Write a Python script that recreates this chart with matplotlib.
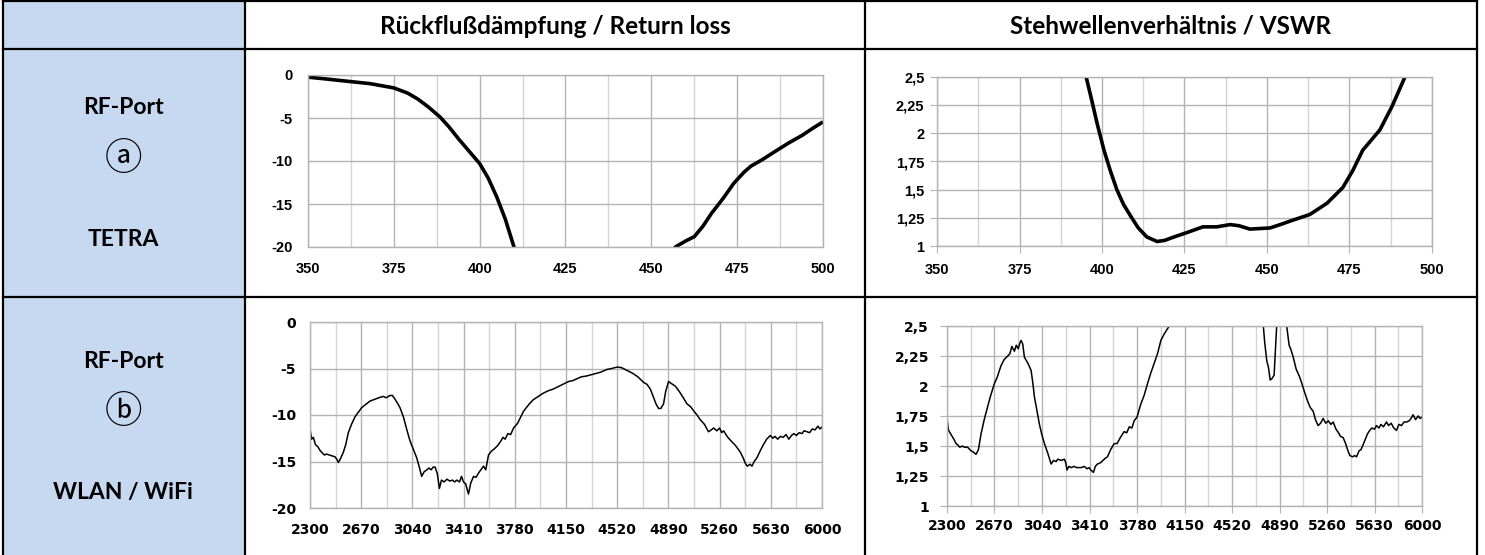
import matplotlib
matplotlib.use("Agg")
from matplotlib import pyplot as plt
from matplotlib.patches import Rectangle

W, H = 1485, 555

# --- data: TETRA return loss (dB) ---
tetra_rl_x1 = [350, 355, 362, 368, 375, 379, 382, 385, 388.5, 391, 394, 397, 400, 402.5, 405, 407.5, 410, 412]
tetra_rl_y1 = [-0.25, -0.45, -0.75, -1.0, -1.5, -2.1, -2.8, -3.7, -4.9, -6.0, -7.5, -8.9, -10.3, -12.0, -14.2, -16.8, -20.0, -22.5]
tetra_rl_x2 = [455, 457, 460, 462.5, 465, 467.5, 471, 474, 477, 479, 482.5, 486, 490, 494, 497, 500]
tetra_rl_y2 = [-21.5, -20.0, -19.3, -18.8, -17.6, -16.1, -14.3, -12.6, -11.3, -10.6, -9.8, -8.9, -7.9, -7.0, -6.2, -5.45]

# --- data: TETRA VSWR ---
tetra_vswr_x = [393, 395.2, 397, 398.5, 400.6, 402.5, 404.5, 406.5, 408.8, 411, 413.6, 416.7, 419, 421.8, 425.8, 430.6,
                434.8, 438.8, 441.5, 444.8, 450.9, 454, 457.9, 463, 468.2, 473, 476, 479, 484.2, 487.9, 491.8, 494]
tetra_vswr_y = [2.8, 2.5, 2.28, 2.09, 1.85, 1.67, 1.5, 1.37, 1.26, 1.16, 1.08, 1.04, 1.05, 1.08, 1.12, 1.17,
                1.17, 1.19, 1.18, 1.15, 1.16, 1.19, 1.23, 1.28, 1.38, 1.52, 1.67, 1.85, 2.03, 2.24, 2.5, 2.8]

# --- data: WLAN return loss (dB) ---
wlan_rl_x = [2300, 2312, 2324, 2340, 2356, 2372, 2390, 2405, 2420, 2440, 2460, 2481, 2495, 2505, 2520, 2541, 2558, 2577,
             2600, 2625, 2650, 2674, 2700, 2734, 2770, 2790, 2806, 2830, 2850, 2878, 2895, 2910, 2927, 2950, 2975,
             3000, 3023, 3047, 3071, 3090, 3107, 3125, 3144, 3160, 3175, 3190, 3204, 3220, 3235, 3250, 3270, 3289,
             3310, 3330, 3345, 3361, 3380, 3395, 3409, 3425, 3445, 3462, 3482, 3500, 3520, 3540, 3554, 3570, 3590,
             3610, 3635, 3655, 3675, 3695, 3710, 3730, 3750, 3771, 3800, 3843, 3880, 3910, 3940, 3980, 4020, 4060,
             4100, 4140, 4168, 4200, 4229, 4260, 4300, 4349, 4400, 4446, 4480, 4518, 4550, 4590, 4630, 4670, 4711,
             4735, 4759, 4780, 4800, 4819, 4835, 4855, 4870, 4891, 4910, 4940, 4970, 5000, 5024, 5050, 5075, 5097,
             5120, 5150, 5180, 5200, 5217, 5240, 5260, 5275, 5289, 5310, 5325, 5350, 5370, 5386, 5410, 5430, 5446,
             5460, 5480, 5494, 5510, 5530, 5555, 5580, 5600, 5627, 5645, 5660, 5680, 5699, 5720, 5740, 5760, 5780,
             5796, 5815, 5835, 5855, 5870, 5892, 5910, 5930, 5950, 5970, 5985, 6000]
wlan_rl_y = [-11.5, -12.6, -12.4, -13.2, -13.4, -13.8, -14.1, -14.3, -14.2, -14.3, -14.4, -14.5, -14.8, -15.1, -14.7, -14.0, -13.2, -11.9,
             -11.0, -10.2, -9.7, -9.2, -8.9, -8.5, -8.3, -8.2, -8.1, -8.0, -8.15, -7.9, -7.9, -8.2, -8.6, -9.2, -10.2,
             -11.6, -12.8, -13.7, -14.6, -15.6, -16.6, -16.1, -15.9, -15.7, -15.9, -15.6, -15.6, -16.3, -17.9, -17.0, -17.2, -16.9,
             -17.1, -17.0, -17.2, -17.0, -17.2, -16.6, -17.2, -17.4, -18.5, -17.3, -16.6, -16.7, -16.2, -15.8, -15.5, -15.9, -14.3,
             -13.9, -13.6, -13.3, -12.9, -12.4, -12.6, -12.0, -12.1, -11.4, -10.9, -9.6, -8.9, -8.4, -8.1, -7.7, -7.4, -7.2,
             -6.9, -6.6, -6.4, -6.3, -6.1, -5.9, -5.8, -5.6, -5.4, -5.1, -5.0, -4.85, -4.9, -5.2, -5.5, -5.9, -6.5,
             -6.7, -7.2, -8.0, -8.8, -9.3, -9.3, -8.8, -7.5, -6.4, -6.6, -6.9, -7.5, -8.2, -8.8, -9.1, -9.6, -10.0,
             -10.5, -11.0, -11.8, -11.6, -11.4, -11.7, -11.4, -11.9, -11.7, -12.2, -12.5, -12.9, -13.2, -13.5, -14.0, -14.6, -15.2,
             -15.5, -15.3, -15.5, -15.0, -14.6, -13.8, -13.1, -12.6, -12.2, -12.5, -12.3, -12.6, -12.3, -12.4, -12.1, -12.6, -12.2,
             -12.0, -12.2, -11.9, -12.0, -11.7, -11.8, -11.9, -11.5, -11.6, -11.2, -11.5, -11.3]

# --- data: WLAN VSWR ---
wlan_vswr_x = [2300, 2310, 2318, 2335, 2357, 2370, 2383, 2400, 2420, 2435, 2460, 2487, 2505, 2526, 2545, 2565, 2590, 2617,
               2640, 2669, 2690, 2721, 2745, 2773, 2790, 2805, 2825, 2840, 2855, 2868, 2877, 2890, 2903, 2930, 2955,
               2968, 2981, 3000, 3020, 3040, 3059, 3085, 3111, 3130, 3150, 3163, 3190, 3215, 3225, 3235, 3250, 3266,
               3290, 3310, 3344, 3370, 3390, 3408, 3420, 3441, 3455, 3472, 3495, 3515, 3535, 3550, 3575, 3602, 3625,
               3650, 3680, 3700, 3720, 3740, 3758, 3780, 3810, 3835, 3862, 3885, 3914, 3940, 3966, 3990, 4031, 4100,
               4700, 4764, 4775, 4791, 4805, 4817, 4830, 4848, 4868, 4880, 4930, 4946, 4965, 4980, 4997, 5020, 5049,
               5070, 5088, 5110, 5130, 5152, 5170, 5191, 5210, 5230, 5250, 5270, 5290, 5308, 5330, 5350, 5365, 5386,
               5405, 5420, 5438, 5460, 5475, 5490, 5510, 5525, 5541, 5560, 5575, 5593, 5610, 5630, 5645, 5665, 5680,
               5700, 5723, 5740, 5760, 5780, 5801, 5820, 5840, 5860, 5879, 5900, 5915, 5930, 5950, 5970, 5985, 6000]
wlan_vswr_y = [1.73, 1.64, 1.62, 1.59, 1.55, 1.52, 1.51, 1.49, 1.50, 1.49, 1.49, 1.46, 1.45, 1.43, 1.47, 1.60, 1.72, 1.83,
               1.92, 2.02, 2.07, 2.17, 2.22, 2.25, 2.27, 2.33, 2.29, 2.34, 2.31, 2.36, 2.38, 2.35, 2.24, 2.19, 2.13,
               2.03, 1.91, 1.80, 1.68, 1.59, 1.52, 1.44, 1.35, 1.38, 1.37, 1.39, 1.38, 1.39, 1.36, 1.30, 1.33, 1.32,
               1.33, 1.32, 1.32, 1.33, 1.31, 1.32, 1.30, 1.28, 1.33, 1.35, 1.36, 1.38, 1.40, 1.41, 1.47, 1.52, 1.52,
               1.57, 1.62, 1.61, 1.66, 1.65, 1.71, 1.74, 1.85, 1.92, 2.02, 2.10, 2.19, 2.27, 2.38, 2.43, 2.50, 2.85,
               2.85, 2.50, 2.36, 2.21, 2.15, 2.05, 2.06, 2.09, 2.50, 2.85, 2.85, 2.50, 2.34, 2.30, 2.24, 2.14, 2.07,
               2.00, 1.94, 1.87, 1.82, 1.79, 1.72, 1.67, 1.69, 1.73, 1.69, 1.71, 1.68, 1.70, 1.64, 1.61, 1.58, 1.57,
               1.52, 1.47, 1.42, 1.41, 1.42, 1.41, 1.46, 1.47, 1.51, 1.56, 1.60, 1.63, 1.65, 1.64, 1.67, 1.65, 1.68,
               1.66, 1.70, 1.67, 1.69, 1.65, 1.63, 1.68, 1.67, 1.70, 1.70, 1.71, 1.73, 1.76, 1.72, 1.75, 1.73, 1.74]

tetra_x_ticks = [350, 375, 400, 425, 450, 475, 500]
wlan_x_ticks = [2300, 2670, 3040, 3410, 3780, 4150, 4520, 4890, 5260, 5630, 6000]
rl_y_ticks = [0, -5, -10, -15, -20]
vswr_y_ticks = [1, 1.25, 1.5, 1.75, 2, 2.25, 2.5]
vswr_y_labels = ["1", "1,25", "1,5", "1,75", "2", "2,25", "2,5"]

col_headers = ["Rückflußdämpfung / Return loss", "Stehwellenverhältnis / VSWR"]
row_labels = [("RF-Port", "ⓐ", "TETRA"), ("RF-Port", "ⓑ", "WLAN / WiFi")]

fig = plt.figure(figsize=(W / 100, H / 100), dpi=100)

# table background
bg = fig.add_axes([0, 0, 1, 1])
bg.set_xlim(0, W)
bg.set_ylim(H, 0)
bg.axis("off")
bg.add_patch(Rectangle((3, 1), 242, H, facecolor="#c6d9f1", edgecolor="none"))
lw_tab = 1.6
for xv in [3, 245, 865, 1477]:
    bg.plot([xv, xv], [0, H], color="black", lw=lw_tab)
for yv in [1, 49, 297]:
    bg.plot([3, 1477], [yv, yv], color="black", lw=lw_tab)

hfont = dict(family=["Lato", "DejaVu Sans"], weight="bold")
bg.text(555, 26, col_headers[0], ha="center", va="center", fontsize=17.5, **hfont)
bg.text(1171, 26, col_headers[1], ha="center", va="center", fontsize=17.5, **hfont)

for (top_lbl, circ, bot_lbl), (y1, y2, y3) in zip(row_labels, [(108, 160, 240), (362, 413, 492)]):
    bg.text(123, y1, top_lbl, ha="center", va="center", fontsize=16.5, **hfont)
    bg.text(123, y2, circ, ha="center", va="center", fontsize=27,
            family=["DejaVu Sans", "Noto Sans CJK JP"])
    bg.text(123, y3, bot_lbl, ha="center", va="center", fontsize=16.5, **hfont)


def px_axes(l, t, r, b):
    return fig.add_axes([l / W, 1 - b / H, (r - l) / W, (b - t) / H])


def style(ax, xticks, minor_x, yticks, ylabels, fs, family, xpad, ypad, ticklen):
    ax.set_xticks(xticks)
    ax.set_xticks(minor_x, minor=True)
    ax.set_yticks(yticks)
    ax.set_yticklabels(ylabels)
    ax.grid(True, which="major", color="#b3b3b3", lw=1.0)
    ax.grid(True, which="minor", axis="x", color="#d4d4d4", lw=1.0)
    ax.set_axisbelow(True)
    for s in ax.spines.values():
        s.set_color("#b3b3b3")
        s.set_linewidth(1.0)
    ax.tick_params(which="major", labelsize=fs, length=ticklen, color="#b3b3b3")
    ax.tick_params(axis="x", pad=xpad)
    ax.tick_params(axis="y", pad=ypad)
    ax.tick_params(which="minor", length=0)
    for lbl in ax.get_xticklabels() + ax.get_yticklabels():
        lbl.set_fontweight("bold")
        lbl.set_family(family)


tetra_minor = [362.5, 387.5, 412.5, 437.5, 462.5, 487.5]
wlan_minor = [2485, 2855, 3225, 3595, 3965, 4335, 4705, 5075, 5445, 5815]

# TETRA return loss
ax1 = px_axes(308, 75, 823, 247)
ax1.plot(tetra_rl_x1, tetra_rl_y1, color="black", lw=2.6, solid_capstyle="butt")
ax1.plot(tetra_rl_x2, tetra_rl_y2, color="black", lw=2.6, solid_capstyle="butt")
ax1.set_xlim(350, 500)
ax1.set_ylim(-20, 0)
style(ax1, tetra_x_ticks, tetra_minor, rl_y_ticks, [str(v) for v in rl_y_ticks], 10.5, "Liberation Sans", 11, 11, 0)

# TETRA VSWR
ax2 = px_axes(937, 77, 1432, 246)
ax2.plot(tetra_vswr_x, tetra_vswr_y, color="black", lw=2.6)
ax2.set_xlim(350, 500)
ax2.set_ylim(1, 2.5)
style(ax2, tetra_x_ticks, tetra_minor, vswr_y_ticks, vswr_y_labels, 10.5, "Liberation Sans", 7.5, 4, 5)

# WLAN return loss
ax3 = px_axes(310, 322, 822, 508)
ax3.plot(wlan_rl_x, wlan_rl_y, color="black", lw=1.1)
ax3.set_xlim(2300, 6000)
ax3.set_ylim(-20, 0)
style(ax3, wlan_x_ticks, wlan_minor, rl_y_ticks, [str(v) for v in rl_y_ticks], 10, "DejaVu Sans", 10.5, 10, 0)

# WLAN VSWR
ax4 = px_axes(947, 326, 1422, 506)
ax4.plot(wlan_vswr_x, wlan_vswr_y, color="black", lw=1.1)
ax4.set_xlim(2300, 6000)
ax4.set_ylim(1, 2.5)
style(ax4, wlan_x_ticks, wlan_minor, vswr_y_ticks, vswr_y_labels, 10, "DejaVu Sans", 4, 8, 5)

fig.savefig("out.png", dpi=100)
